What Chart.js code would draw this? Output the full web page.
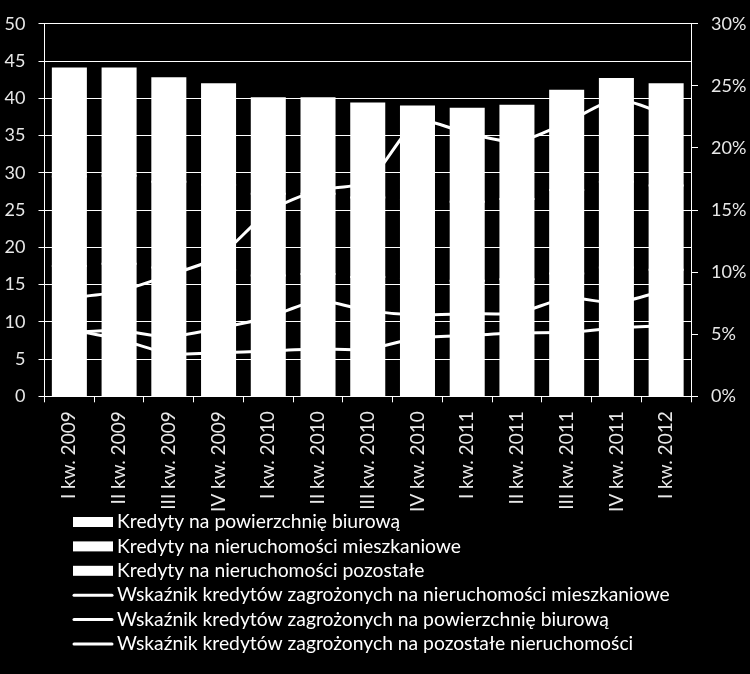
<!DOCTYPE html>
<html>
<head>
<meta charset="utf-8">
<script src="https://cdn.jsdelivr.net/npm/chart.js@4/dist/chart.umd.min.js"></script>
<style>
    body { margin: 0; background: #000; }
    #wrap { width: 750px; height: 674px; }
</style>
</head>
<body>
<div id="wrap"><canvas id="chart" width="750" height="674"></canvas></div>
<script>
const quarters = ['I kw. 2009', 'II kw. 2009', 'III kw. 2009', 'IV kw. 2009', 'I kw. 2010', 'II kw. 2010',
    'III kw. 2010', 'IV kw. 2010', 'I kw. 2011', 'II kw. 2011', 'III kw. 2011', 'IV kw. 2011', 'I kw. 2012'];

// loans, mld zł (stacked)
const officeLoans = [17.5, 17.8, 17.3, 17.0, 16.2, 16.4, 16.0, 15.8, 15.5, 15.7, 16.5, 17.3, 17.0];
const housingLoans = [12.0, 11.8, 11.5, 11.4, 11.0, 10.8, 10.7, 10.6, 10.6, 10.8, 11.2, 11.5, 11.3];
const otherLoans = [14.5, 14.4, 13.9, 13.5, 12.8, 12.8, 12.6, 12.5, 12.5, 12.5, 13.3, 13.8, 13.6];

// impaired loan ratios, %
const housingNpl = [5.4, 4.6, 3.45, 3.5, 3.65, 3.8, 3.8, 4.7, 4.9, 5.1, 5.15, 5.5, 5.7];
const officeNpl = [5.15, 5.3, 4.8, 5.5, 6.35, 7.7, 6.9, 6.55, 6.65, 6.7, 7.9, 7.55, 8.55];
const otherNpl = [7.9, 8.45, 9.75, 11.25, 14.85, 16.6, 17.3, 22.1, 21.2, 20.5, 22.05, 23.9, 22.7];

const leftTicks = { min: 0, max: 50, step: 5 };
const rightTicks = { min: 0, max: 30, step: 5 };

const textColor = '#e8e8e8';
Chart.defaults.font.family = 'Lato';
Chart.defaults.font.size = 18;

function barSet(label, data) {
    return {
        label: label,
        data: data,
        backgroundColor: '#ffffff',
        borderWidth: 0,
        inflateAmount: 1,
        stack: 'kredyty',
        yAxisID: 'y',
        barPercentage: 0.664,
        categoryPercentage: 1,
        order: 2
    };
}

function lineSet(label, data) {
    return {
        type: 'line',
        label: label,
        data: data,
        borderColor: '#ffffff',
        borderWidth: 3,
        pointRadius: 0,
        tension: 0.25,
        yAxisID: 'y1',
        order: 1
    };
}

// legend drawn one item per row, like the original
const rowLegend = {
    id: 'rowLegend',
    afterDraw(chart) {
        const ctx = chart.ctx;
        ctx.save();
        ctx.font = '19.3px Lato';
        ctx.textBaseline = 'middle';
        chart.data.datasets.forEach((ds, i) => {
            const y = 522 + i * 24.4;
            ctx.fillStyle = '#ffffff';
            ctx.strokeStyle = '#ffffff';
            if (ds.type === 'line') {
                ctx.lineWidth = 3;
                ctx.lineCap = 'round';
                ctx.beginPath();
                ctx.moveTo(74, y);
                ctx.lineTo(112, y);
                ctx.stroke();
            } else {
                ctx.fillRect(73, y - 5, 40, 10);
            }
            ctx.fillText(ds.label, 117, y);
        });
        ctx.restore();
    }
};

new Chart(document.getElementById('chart'), {
    type: 'bar',
    data: {
        labels: quarters,
        datasets: [
            barSet('Kredyty na powierzchnię biurową', officeLoans),
            barSet('Kredyty na nieruchomości mieszkaniowe', housingLoans),
            barSet('Kredyty na nieruchomości pozostałe', otherLoans),
            lineSet('Wskaźnik kredytów zagrożonych na nieruchomości mieszkaniowe', housingNpl),
            lineSet('Wskaźnik kredytów zagrożonych na powierzchnię biurową', officeNpl),
            lineSet('Wskaźnik kredytów zagrożonych na pozostałe nieruchomości', otherNpl)
        ]
    },
    options: {
        responsive: false,
        animation: false,
        devicePixelRatio: 1,
        layout: { padding: { top: 20, left: 0, right: 0, bottom: 0 } },
        plugins: {
            legend: { display: false },
            tooltip: { enabled: false }
        },
        scales: {
            x: {
                stacked: true,
                afterFit: s => { s.height = 277.7; },
                grid: { drawOnChartArea: false, drawTicks: true, tickLength: 6, color: '#ffffff' },
                border: { display: true, color: '#ffffff', width: 1 },
                ticks: { color: textColor, font: { size: 19 }, minRotation: 90, maxRotation: 90, padding: 9, autoSkip: false }
            },
            y: {
                stacked: true,
                min: leftTicks.min,
                max: leftTicks.max,
                afterFit: s => { s.width = 44.5; },
                grid: { color: '#ffffff', lineWidth: 1, tickLength: 6 },
                border: { display: true, color: '#ffffff', width: 1 },
                ticks: { stepSize: leftTicks.step, color: textColor, padding: 13 }
            },
            y1: {
                position: 'right',
                stacked: false,
                min: rightTicks.min,
                max: rightTicks.max,
                afterFit: s => { s.width = 59; },
                grid: { drawOnChartArea: false, color: '#ffffff', tickLength: 7 },
                border: { display: true, color: '#ffffff', width: 1 },
                ticks: { stepSize: rightTicks.step, color: textColor, padding: 13, callback: v => v + '%' }
            }
        }
    },
    plugins: [rowLegend]
});
</script>
</body>
</html>
